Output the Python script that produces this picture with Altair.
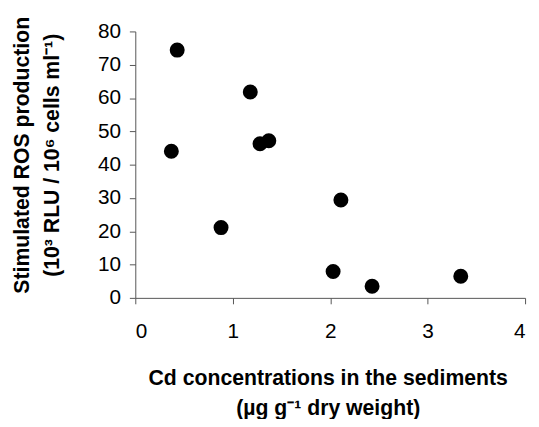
import altair as alt
import pandas as pd

cd = [0.37, 0.43, 0.88, 1.18, 1.28, 1.37, 2.03, 2.11, 2.43, 3.34]
ros = [44.0, 74.4, 21.1, 61.8, 46.3, 47.2, 7.9, 29.4, 3.5, 6.5]

x_ticks = [0, 1, 2, 3, 4]
y_ticks = [0, 10, 20, 30, 40, 50, 60, 70, 80]

df = pd.DataFrame({"cd": cd, "ros": ros})

FONT = "Liberation Sans"

chart = (
    alt.Chart(df)
    .mark_circle(size=230, color="black", opacity=1)
    .encode(
        x=alt.X(
            "cd:Q",
            scale=alt.Scale(domain=[0, 4], nice=False, zero=True),
            axis=alt.Axis(
                values=x_ticks,
                title=["Cd concentrations in the sediments", "(µg g⁻¹ dry weight)"],
                titleX=195,
                titleY=88,
                titleBaseline="alphabetic",
                titleAlign="center",
                titleLineHeight=30,
                labelPadding=17,
            ),
        ),
        y=alt.Y(
            "ros:Q",
            scale=alt.Scale(domain=[0, 80], nice=False),
            axis=alt.Axis(
                values=y_ticks,
                title=["Stimulated ROS production", "(10³ RLU / 10⁶ cells ml⁻¹)"],
                titleAngle=-90,
                titleX=-108,
                titleY=125,
                titleAlign="center",
                titleBaseline="alphabetic",
                titleLineHeight=30,
                labelPadding=9,
            ),
        ),
    )
    .properties(
        width=395,
        height=270,
        autosize=alt.AutoSizeParams(type="none"),
        padding={"left": 129, "top": 21, "right": 6, "bottom": 120},
    )
    .configure_view(stroke=None)
    .configure_axis(
        grid=False,
        domainColor="#555555",
        domainWidth=1,
        tickColor="#555555",
        tickSize=6,
        labelFont=FONT,
        labelFontSize=21,
        labelColor="black",
        titleFont=FONT,
        titleFontSize=21.5,
        titleFontWeight="bold",
        titleColor="black",
    )
)

chart.save("out.html", embed_options={"renderer": "svg", "actions": False})
